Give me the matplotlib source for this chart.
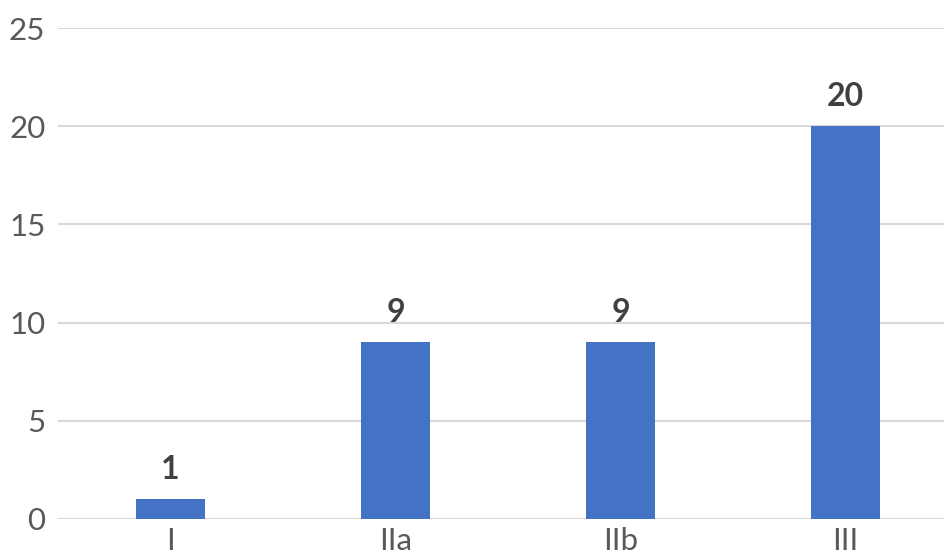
import matplotlib
matplotlib.use('Agg')
import matplotlib.pyplot as plt

# Dữ liệu biểu đồ
categories = ['I', 'IIa', 'IIb', 'III']
counts = [1, 9, 9, 20]
y_ticks = [0, 5, 10, 15, 20, 25]

plt.rcParams['font.family'] = ['Lato', 'DejaVu Sans']

fig = plt.figure(figsize=(9.45, 5.59), dpi=100)
ax = fig.add_axes([58 / 945, 1 - 519 / 559, 1 - 58 / 945, (519 - 28) / 559])

x = range(len(categories))
bars = ax.bar(x, counts, width=0.31, color='#4472c4', zorder=3)

# Nhãn giá trị trên mỗi cột
for rect, v in zip(bars, counts):
    ax.annotate(str(v), (rect.get_x() + rect.get_width() / 2, v),
                xytext=(0, 11), textcoords='offset points',
                ha='center', va='bottom', fontsize=23, fontweight='bold',
                color='#404040')

ax.set_ylim(0, 25)
ax.set_xlim(-0.5, 3.5 - 13 / 225)
ax.set_yticks(y_ticks)
ax.set_xticks(list(x))
ax.set_xticklabels(categories)
ax.yaxis.grid(True, color='#d9d9d9', linewidth=1.5, zorder=0)
ax.tick_params(axis='both', length=0, labelsize=22.5, labelcolor='#595959')
ax.tick_params(axis='y', pad=9)
ax.tick_params(axis='x', pad=6)
for s in ax.spines.values():
    s.set_visible(False)

fig.savefig('out.png', dpi=100)
